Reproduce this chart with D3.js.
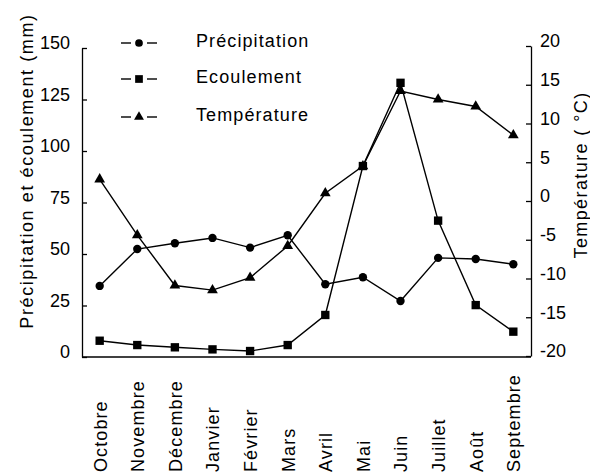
<!DOCTYPE html>
<html>
<head>
<meta charset="utf-8">
<script src="https://cdn.jsdelivr.net/npm/d3@7"></script>
<style>
  body { margin: 0; background: #fff; }
  svg { font-family: "Liberation Sans", Arial, sans-serif; }
</style>
</head>
<body>
<svg width="590" height="474"></svg>
<script>
// Données
var mois = ["Octobre", "Novembre", "Décembre", "Janvier", "Février", "Mars",
            "Avril", "Mai", "Juin", "Juillet", "Août", "Septembre"];
var precipitation = [34.5, 52.4, 55.2, 57.8, 53.1, 59.1, 35.3, 38.7, 27.2, 48.1, 47.6, 45.0];
var ecoulement = [7.9, 5.8, 4.7, 3.7, 2.9, 5.8, 20.4, 92.7, 133.1, 66.2, 25.2, 12.3];
var temperature = [2.8, -4.4, -10.9, -11.5, -9.9, -5.8, 1.0, 4.5, 14.2, 13.1, 12.2, 8.5];

var ticksGauche = [0, 25, 50, 75, 100, 125, 150];
var ticksDroite = [-20, -15, -10, -5, 0, 5, 10, 15, 20];

var series = [
    { nom: "Précipitation", valeurs: precipitation, axe: "g", symbole: d3.symbolCircle, taille: 55 },
    { nom: "Ecoulement", valeurs: ecoulement, axe: "g", symbole: d3.symbolSquare, taille: 70 },
    { nom: "Température", valeurs: temperature, axe: "d", symbole: d3.symbolTriangle, taille: 50 }
];
// ordre de dessin des marqueurs (le carré de mai cache le triangle)
var ordreMarqueurs = [2, 0, 1];

var svg = d3.select("svg");

// Échelles
var x = d3.scalePoint().domain(mois).range([82, 531]).padding(0.47);
var yG = d3.scaleLinear().domain([0, 150]).range([357, 48]);
var yD = d3.scaleLinear().domain([-20, 20]).range([356, 46]);

// Axe gauche
var axeG = svg.append("g")
    .attr("transform", "translate(82,0)")
    .call(d3.axisLeft(yG).tickValues(ticksGauche).tickSizeInner(-5).tickSizeOuter(0).tickPadding(12));
axeG.selectAll("text").attr("dy", "0.05em").style("font-size", "18px");

// Axe droit
var axeD = svg.append("g")
    .attr("transform", "translate(531,0)")
    .call(d3.axisRight(yD).tickValues(ticksDroite).tickSizeInner(-5).tickSizeOuter(0).tickPadding(9)
        .tickFormat(d => String(d)));
axeD.selectAll("text").attr("dy", "0.05em").style("font-size", "18px");

svg.selectAll(".domain, .tick line").attr("stroke", "#000").attr("stroke-width", 1.3);
svg.selectAll(".tick text").attr("fill", "#000");

// Ligne du bas
svg.append("line")
    .attr("x1", 82).attr("x2", 531)
    .attr("y1", yG(0)).attr("y2", yG(0))
    .attr("stroke", "#000").attr("stroke-width", 1.3);

// Noms des mois
svg.append("g").selectAll("text")
    .data(mois)
    .enter().append("text")
    .attr("transform", d => "translate(" + x(d) + ",472) rotate(-90)")
    .attr("dy", "0.38em")
    .attr("text-anchor", "start")
    .style("font-size", "18px")
    .style("letter-spacing", "1.1px")
    .text(d => d);

// Titres des axes
svg.append("text")
    .attr("transform", "translate(33,171) rotate(-90)")
    .attr("text-anchor", "middle")
    .style("font-size", "18px")
    .style("letter-spacing", "1.6px")
    .text("Précipitation et écoulement (mm)");

svg.append("text")
    .attr("transform", "translate(587,175) rotate(-90)")
    .attr("text-anchor", "middle")
    .style("font-size", "18px")
    .style("letter-spacing", "1.4px")
    .text("Température ( °C)");

function echelle(s) {
    return s.axe === "g" ? yG : yD;
}

// Courbes
series.forEach(function (s) {
    var y = echelle(s);
    var ligne = d3.line()
        .x((d, i) => x(mois[i]))
        .y(d => y(d));

    svg.append("path")
        .datum(s.valeurs)
        .attr("d", ligne)
        .attr("fill", "none")
        .attr("stroke", "#000")
        .attr("stroke-width", 1.4);
});

// Marqueurs
ordreMarqueurs.forEach(function (k) {
    var s = series[k];
    var y = echelle(s);
    svg.append("g").selectAll("path")
        .data(s.valeurs)
        .enter().append("path")
        .attr("transform", (d, i) => "translate(" + x(mois[i]) + "," + y(d) + ")")
        .attr("d", d3.symbol().type(s.symbole).size(s.taille))
        .attr("fill", "#000");
});

// Légende
var legendeY = [43, 79, 117];
series.forEach(function (s, i) {
    var g = svg.append("g").attr("transform", "translate(139," + legendeY[i] + ")");
    g.append("line").attr("x1", -18).attr("x2", -8).attr("stroke", "#000").attr("stroke-width", 1.4);
    g.append("line").attr("x1", 8).attr("x2", 18).attr("stroke", "#000").attr("stroke-width", 1.4);
    g.append("path").attr("d", d3.symbol().type(s.symbole).size(s.taille * 0.85)).attr("fill", "#000");
    g.append("text")
        .attr("x", 57)
        .attr("y", 4)
        .style("font-size", "18px")
        .style("letter-spacing", "1.1px")
        .text(s.nom);
});
</script>
</body>
</html>
